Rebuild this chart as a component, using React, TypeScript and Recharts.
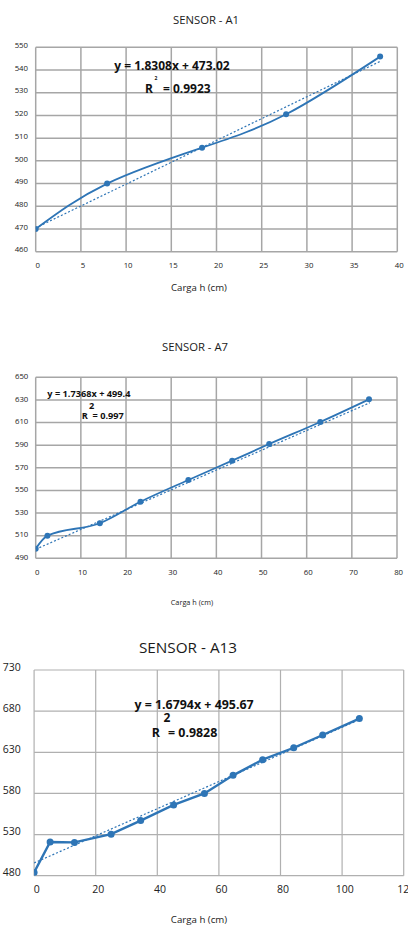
import { CartesianGrid, ComposedChart, Line, XAxis, YAxis } from "recharts";

const FONT = "'Open Sans', sans-serif";
const BLUE = "#2e75b6";

// SENSOR - A1
const a1Carga = [0, 7.9, 18.4, 27.7, 38.1];
const a1Lectura = [470, 490, 505.8, 520.5, 545.9];
const a1TendCarga = [0, 38.2];
const a1TendLectura = [470.5, 544];
const a1XTicks = [0, 5, 10, 15, 20, 25, 30, 35, 40];
const a1YTicks = [460, 470, 480, 490, 500, 510, 520, 530, 540, 550];

// SENSOR - A7
const a7Carga = [0, 2.6, 14.2, 23.2, 33.8, 43.5, 51.7, 63, 73.8];
const a7Lectura = [498.5, 510, 521, 540, 559.2, 576.3, 591, 610.5, 630.5];
const a7TendCarga = [0, 74];
const a7TendLectura = [498, 627.5];
const a7XTicks = [0, 10, 20, 30, 40, 50, 60, 70, 80];
const a7YTicks = [490, 510, 530, 550, 570, 590, 610, 630, 650];

// SENSOR - A13
const a13Carga = [0, 5.2, 13.1, 25, 34.6, 45.3, 55.3, 64.6, 74.2, 84.3, 93.7, 105.6];
const a13Lectura = [484, 521, 520.5, 530.5, 547, 566, 580, 602, 621, 635.5, 651, 671];
const a13TendCarga = [0, 104];
const a13TendLectura = [495.5, 667];
const a13XTicks = [0, 20, 40, 60, 80, 100, 120];
const a13YTicks = [480, 530, 580, 630, 680, 730];

const zip = (xs: number[], ys: number[]) => xs.map((x, i) => ({ x, y: ys[i] }));

type ChartProps = {
  top: number;
  height: number;
  margin: { top: number; right: number; bottom: number; left: number };
  data: { x: number; y: number }[];
  trend: { x: number; y: number }[];
  xTicks: number[];
  yTicks: number[];
  fontSize: number;
  xTickMargin: number;
  yTickMargin: number;
  xDx: number;
  yDy: number;
  curve: "natural" | "monotone" | "linear";
  lineWidth: number;
  dotR: number;
  gridStroke: string;
  gridWidth: number;
};

function SensorChart(p: ChartProps) {
  const tick = { fontSize: p.fontSize, fill: "#222", fontFamily: FONT };
  return (
    <div style={{ position: "absolute", left: 0, top: p.top }}>
      <ComposedChart width={408} height={p.height} margin={p.margin}>
        <CartesianGrid stroke={p.gridStroke} strokeWidth={p.gridWidth} />
        <XAxis
          type="number"
          dataKey="x"
          domain={[p.xTicks[0], p.xTicks[p.xTicks.length - 1]]}
          ticks={p.xTicks}
          interval={0}
          allowDataOverflow
          axisLine={false}
          tickLine={false}
          tickSize={0}
          tickMargin={p.xTickMargin}
          height={30}
          tick={{ ...tick, dx: p.xDx }}
        />
        <YAxis
          type="number"
          domain={[p.yTicks[0], p.yTicks[p.yTicks.length - 1]]}
          ticks={p.yTicks}
          interval={0}
          allowDataOverflow
          axisLine={false}
          tickLine={false}
          tickSize={0}
          tickMargin={p.yTickMargin}
          width={30}
          tick={{ ...tick, dy: p.yDy }}
        />
        <Line
          data={p.trend}
          dataKey="y"
          type="linear"
          stroke={BLUE}
          strokeWidth={1.2}
          strokeDasharray="2 2"
          dot={false}
          activeDot={false}
          isAnimationActive={false}
        />
        <Line
          data={p.data}
          dataKey="y"
          type={p.curve}
          stroke={BLUE}
          strokeWidth={p.lineWidth}
          dot={{ r: p.dotR, fill: BLUE, stroke: BLUE, strokeWidth: 0 }}
          activeDot={false}
          isAnimationActive={false}
        />
      </ComposedChart>
    </div>
  );
}

function Txt({ x, y, size, bold, align = "center", children }: {
  x: number; y: number; size: number; bold?: boolean; align?: "center" | "left"; children: React.ReactNode;
}) {
  return (
    <div
      style={{
        position: "absolute",
        left: x,
        top: y,
        transform: align === "center" ? "translate(-50%, -50%)" : "translate(0, -50%)",
        fontFamily: FONT,
        fontSize: size,
        fontWeight: bold ? 700 : 400,
        lineHeight: 1,
        whiteSpace: "nowrap",
        color: bold ? "#111" : "#1a1a1a",
      }}
    >
      {children}
    </div>
  );
}

export default function App() {
  return (
    <div style={{ position: "absolute", left: 0, top: 0, width: 408, height: 925, background: "#fff", overflow: "hidden" }}>
      <SensorChart
        top={0}
        height={300}
        margin={{ top: 47.3, right: 10.7, bottom: 18.3, left: 5.7 }}
        data={zip(a1Carga, a1Lectura)}
        trend={zip(a1TendCarga, a1TendLectura)}
        xTicks={a1XTicks}
        yTicks={a1YTicks}
        fontSize={7.8}
        xTickMargin={10.6}
        yTickMargin={7.7}
        xDx={2}
        yDy={-2}
        curve="natural"
        lineWidth={1.8}
        dotR={3}
        gridStroke="#a6a6a6"
        gridWidth={1.5}
      />
      <Txt x={206} y={20} size={11.3}>SENSOR - A1</Txt>
      <Txt x={172} y={66} size={12} bold>y = 1.8308x + 473.02</Txt>
      <Txt x={145} y={89} size={12} bold align="left">R</Txt>
      <Txt x={156} y={78} size={5} bold>2</Txt>
      <Txt x={163} y={89} size={12} bold align="left">= 0.9923</Txt>
      <Txt x={199} y={288} size={9.6}>Carga h (cm)</Txt>

      <SensorChart
        top={330}
        height={290}
        margin={{ top: 47.3, right: 11, bottom: 31.7, left: 5.7 }}
        data={zip(a7Carga, a7Lectura)}
        trend={zip(a7TendCarga, a7TendLectura)}
        xTicks={a7XTicks}
        yTicks={a7YTicks}
        fontSize={7.8}
        xTickMargin={10.7}
        yTickMargin={7.4}
        xDx={1.6}
        yDy={-1}
        curve="monotone"
        lineWidth={1.8}
        dotR={3}
        gridStroke="#a6a6a6"
        gridWidth={1.5}
      />
      <Txt x={195} y={347} size={11.3}>SENSOR - A7</Txt>
      <Txt x={47.3} y={394} size={9.2} bold align="left">y = 1.7368x + 499.4</Txt>
      <Txt x={91.7} y={406} size={9.2} bold>2</Txt>
      <Txt x={81.7} y={416} size={9.2} bold align="left">R&nbsp;&nbsp;= 0.997</Txt>
      <Txt x={192} y={602.7} size={7.3}>Carga h (cm)</Txt>

      <SensorChart
        top={630}
        height={295}
        margin={{ top: 40, right: 4.3, bottom: 19.3, left: 4.1 }}
        data={zip(a13Carga, a13Lectura)}
        trend={zip(a13TendCarga, a13TendLectura)}
        xTicks={a13XTicks}
        yTicks={a13YTicks}
        fontSize={10.5}
        xTickMargin={9.6}
        yTickMargin={13.4}
        xDx={2.6}
        yDy={-3}
        curve="linear"
        lineWidth={2.4}
        dotR={3.5}
        gridStroke="#b0b0b0"
        gridWidth={1.2}
      />
      <Txt x={188} y={648} size={15.3}>SENSOR - A13</Txt>
      <Txt x={194} y={705} size={12.4} bold>y = 1.6794x + 495.67</Txt>
      <Txt x={167} y={718} size={12} bold>2</Txt>
      <Txt x={151.7} y={733} size={12.4} bold align="left">R</Txt>
      <Txt x={168} y={733} size={12.4} bold align="left">= 0.9828</Txt>
      <Txt x={199} y={919.5} size={9.7}>Carga h (cm)</Txt>
    </div>
  );
}
